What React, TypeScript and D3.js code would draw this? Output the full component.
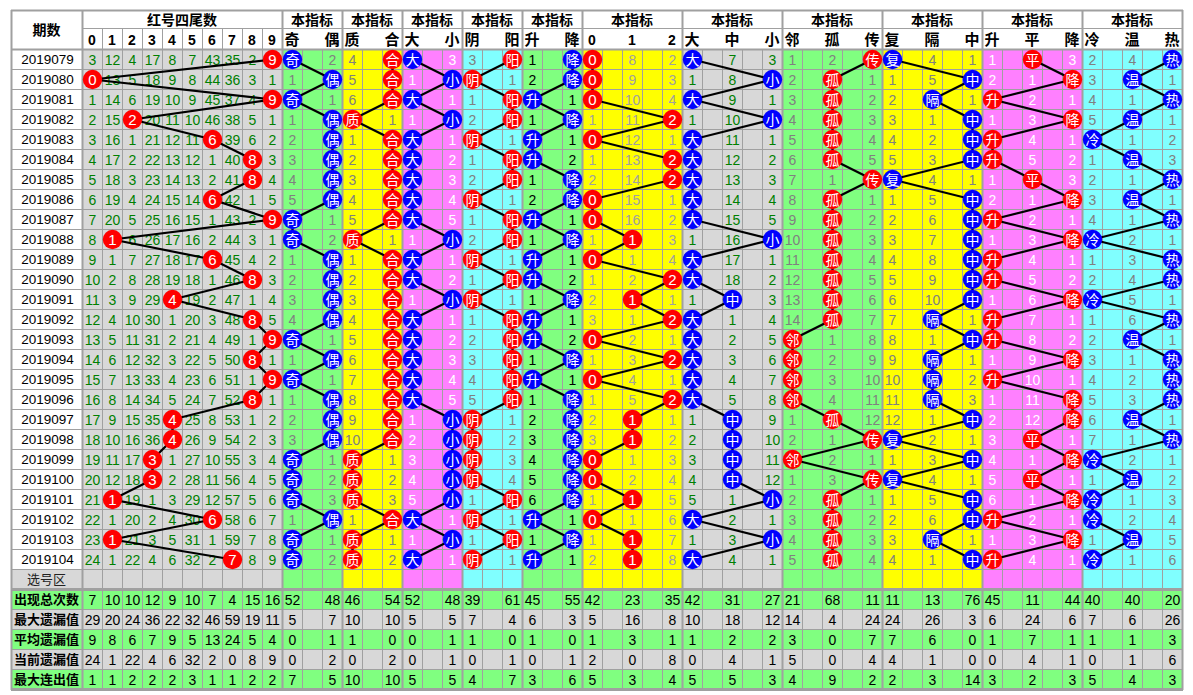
import React from "react";
import * as d3 from "d3";

// ---------- DATA ----------
const periods = [
  "2019079","2019080","2019081","2019082","2019083","2019084","2019085","2019086","2019087","2019088",
  "2019089","2019090","2019091","2019092","2019093","2019094","2019095","2019096","2019097","2019098",
  "2019099","2019100","2019101","2019102","2019103","2019104",
];
const digitLabels = ["0","1","2","3","4","5","6","7","8","9"];
// missing counts per row; 0 = drawn (hit)
const tailMiss = [
  [3,12,4,17,8,7,43,35,2,0],
  [0,13,5,18,9,8,44,36,3,1],
  [1,14,6,19,10,9,45,37,4,0],
  [2,15,0,20,11,10,46,38,5,1],
  [3,16,1,21,12,11,0,39,6,2],
  [4,17,2,22,13,12,1,40,0,3],
  [5,18,3,23,14,13,2,41,0,4],
  [6,19,4,24,15,14,0,42,1,5],
  [7,20,5,25,16,15,1,43,2,0],
  [8,0,6,26,17,16,2,44,3,1],
  [9,1,7,27,18,17,0,45,4,2],
  [10,2,8,28,19,18,1,46,0,3],
  [11,3,9,29,0,19,2,47,1,4],
  [12,4,10,30,1,20,3,48,0,5],
  [13,5,11,31,2,21,4,49,1,0],
  [14,6,12,32,3,22,5,50,0,1],
  [15,7,13,33,4,23,6,51,1,0],
  [16,8,14,34,5,24,7,52,0,1],
  [17,9,15,35,0,25,8,53,1,2],
  [18,10,16,36,0,26,9,54,2,3],
  [19,11,17,0,1,27,10,55,3,4],
  [20,12,18,0,2,28,11,56,4,5],
  [21,0,19,1,3,29,12,57,5,6],
  [22,1,20,2,4,30,0,58,6,7],
  [23,0,21,3,5,31,1,59,7,8],
  [24,1,22,4,6,32,2,0,8,9],
];
const tailStats = [
  [7,10,10,12,9,10,7,4,15,16],
  [29,20,24,36,22,32,46,59,19,11],
  [9,8,6,7,9,5,13,24,5,4],
  [24,1,22,4,6,32,2,0,8,9],
  [1,1,2,2,2,3,1,1,2,2],
];
const statLabels = ["出现总次数","最大遗漏值","平均遗漏值","当前遗漏值","最大连出值"];

const oddEvenLabels = ["奇","偶"];
const oddEven = [[0,2],[1,0],[0,1],[1,0],[2,0],[3,0],[4,0],[5,0],[0,1],[0,2],[1,0],[2,0],[3,0],[4,0],[0,1],[1,0],[0,1],[1,0],[2,0],[3,0],[0,1],[0,2],[0,3],[1,0],[0,1],[0,2]];
const oddEvenStats = [[52,48],[5,7],[0,1],[0,2],[7,5]];

const primeLabels = ["质","合"];
const primeComp = [[4,0],[5,0],[6,0],[0,1],[1,0],[2,0],[3,0],[4,0],[5,0],[0,1],[1,0],[2,0],[3,0],[4,0],[5,0],[6,0],[7,0],[8,0],[9,0],[10,0],[0,1],[0,2],[0,3],[1,0],[0,1],[0,2]];
const primeStats = [[46,54],[10,10],[1,0],[0,2],[10,10]];

const bigSmallLabels = ["大","小"];
const bigSmall = [[0,3],[1,0],[0,1],[1,0],[0,1],[0,2],[0,3],[0,4],[0,5],[1,0],[0,1],[0,2],[1,0],[0,1],[0,2],[0,3],[0,4],[0,5],[1,0],[2,0],[3,0],[4,0],[5,0],[0,1],[1,0],[0,1]];
const bigSmallStats = [[52,48],[5,5],[0,1],[0,1],[5,5]];

const yinYangLabels = ["阴","阳"];
const yinYang = [[3,0],[0,1],[1,0],[2,0],[0,1],[1,0],[2,0],[0,1],[1,0],[2,0],[0,1],[1,0],[0,1],[1,0],[2,0],[3,0],[4,0],[5,0],[0,1],[0,2],[0,3],[0,4],[1,0],[0,1],[1,0],[0,1]];
const yinYangStats = [[39,61],[7,4],[1,0],[0,1],[4,7]];

const riseFallLabels = ["升","降"];
const riseFall = [[1,0],[2,0],[0,1],[1,0],[0,1],[0,2],[1,0],[2,0],[0,1],[1,0],[0,1],[0,2],[1,0],[0,1],[0,2],[1,0],[0,1],[1,0],[2,0],[3,0],[4,0],[5,0],[6,0],[0,1],[1,0],[0,1]];
const riseFallStats = [[45,55],[6,3],[1,0],[0,1],[3,6]];

const mod3Labels = ["0","1","2"];
const mod3 = [[0,8,2],[0,9,3],[0,10,4],[1,11,0],[0,12,1],[1,13,0],[2,14,0],[0,15,1],[0,16,2],[1,0,3],[0,1,4],[1,2,0],[2,0,1],[3,1,0],[0,2,1],[1,3,0],[0,4,1],[1,5,0],[2,0,1],[3,0,2],[0,1,3],[0,2,4],[1,0,5],[0,1,6],[1,0,7],[2,0,8]];
const mod3Stats = [[42,23,35],[5,16,8],[1,3,1],[2,0,8],[5,3,4]];

const bmsLabels = ["大","中","小"];
const bigMidSmall = [[0,7,3],[1,8,0],[0,9,1],[1,10,0],[0,11,1],[0,12,2],[0,13,3],[0,14,4],[0,15,5],[1,16,0],[0,17,1],[0,18,2],[1,0,3],[0,1,4],[0,2,5],[0,3,6],[0,4,7],[0,5,8],[1,0,9],[2,0,10],[3,0,11],[4,0,12],[5,1,0],[0,2,1],[1,3,0],[0,4,1]];
const bmsStats = [[42,31,27],[10,18,12],[1,2,2],[0,4,1],[5,5,3]];

const airLabels = ["邻","孤","传"];
const adjIsoRep = [[1,2,0],[2,0,1],[3,0,2],[4,0,3],[5,0,4],[6,0,5],[7,1,0],[8,0,1],[9,0,2],[10,0,3],[11,0,4],[12,0,5],[13,0,6],[14,0,7],[0,1,8],[0,2,9],[0,3,10],[0,4,11],[1,0,12],[2,1,0],[0,2,1],[1,3,0],[2,0,1],[3,0,2],[4,0,3],[5,0,4]];
const airStats = [[21,68,11],[14,4,24],[3,0,7],[5,0,4],[4,9,2]];

const rgmLabels = ["复","隔","中"];
const repGapMid = [[0,4,1],[1,5,0],[2,0,1],[3,1,0],[4,2,0],[5,3,0],[0,4,1],[1,5,0],[2,6,0],[3,7,0],[4,8,0],[5,9,0],[6,10,0],[7,0,1],[8,1,0],[9,0,1],[10,0,2],[11,0,3],[12,1,0],[0,2,1],[1,3,0],[0,4,1],[1,5,0],[2,6,0],[3,0,1],[4,1,0]];
const rgmStats = [[11,13,76],[24,26,3],[7,6,0],[4,1,0],[2,3,14]];

const rffLabels = ["升","平","降"];
const riseFlatFall = [[1,0,3],[2,1,0],[0,2,1],[1,3,0],[0,4,1],[0,5,2],[1,0,3],[2,1,0],[0,2,1],[1,3,0],[0,4,1],[0,5,2],[1,6,0],[0,7,1],[0,8,2],[1,9,0],[0,10,1],[1,11,0],[2,12,0],[3,0,1],[4,1,0],[5,0,1],[6,1,0],[0,2,1],[1,3,0],[0,4,1]];
const rffStats = [[45,11,44],[6,24,6],[1,7,1],[0,4,1],[3,2,3]];

const cwhLabels = ["冷","温","热"];
const coldWarmHot = [[2,4,0],[3,0,1],[4,1,0],[5,0,1],[0,1,2],[1,0,3],[2,1,0],[3,0,1],[4,1,0],[0,2,1],[1,3,0],[2,4,0],[0,5,1],[1,6,0],[2,0,1],[3,1,0],[4,2,0],[5,3,0],[6,0,1],[7,1,0],[0,2,1],[1,0,2],[0,1,3],[0,2,4],[1,0,5],[0,1,6]];
const cwhStats = [[40,40,20],[7,6,26],[1,1,3],[0,1,6],[5,4,3]];

// ---------- STYLE ----------
const GREEN = "#80ff80";
const YELLOW = "#ffff00";
const PINK = "#ff80ff";
const CYAN = "#80ffff";
const GRAY = "#d8d8d8";
const GRID = "#a0a0a0";
const RED = "#ff0000";
const BLUE = "#0000ff";
const NUMF = "'Liberation Sans', Arial, sans-serif";
const CJK = "'Noto Sans CJK SC', sans-serif";

type Group = {
  title: string;
  labels: string[];
  rows: number[][];
  stats: number[][];
  bg: string;
  text: string;
  ball: string;
  ncols: number;
  pos: number[];
};

const groups: Group[] = [
  { title: "红号四尾数", labels: digitLabels, rows: tailMiss, stats: tailStats, bg: GRAY, text: "#008000", ball: RED, ncols: 10, pos: [0,1,2,3,4,5,6,7,8,9] },
  { title: "本指标", labels: oddEvenLabels, rows: oddEven, stats: oddEvenStats, bg: GREEN, text: "#808080", ball: BLUE, ncols: 3, pos: [0,2] },
  { title: "本指标", labels: primeLabels, rows: primeComp, stats: primeStats, bg: YELLOW, text: "#808080", ball: RED, ncols: 3, pos: [0,2] },
  { title: "本指标", labels: bigSmallLabels, rows: bigSmall, stats: bigSmallStats, bg: PINK, text: "#ffffff", ball: BLUE, ncols: 3, pos: [0,2] },
  { title: "本指标", labels: yinYangLabels, rows: yinYang, stats: yinYangStats, bg: CYAN, text: "#808080", ball: RED, ncols: 3, pos: [0,2] },
  { title: "本指标", labels: riseFallLabels, rows: riseFall, stats: riseFallStats, bg: GREEN, text: "#000000", ball: BLUE, ncols: 3, pos: [0,2] },
  { title: "本指标", labels: mod3Labels, rows: mod3, stats: mod3Stats, bg: YELLOW, text: "#a0a0a0", ball: RED, ncols: 5, pos: [0,2,4] },
  { title: "本指标", labels: bmsLabels, rows: bigMidSmall, stats: bmsStats, bg: GRAY, text: "#008000", ball: BLUE, ncols: 5, pos: [0,2,4] },
  { title: "本指标", labels: airLabels, rows: adjIsoRep, stats: airStats, bg: GREEN, text: "#808080", ball: RED, ncols: 5, pos: [0,2,4] },
  { title: "本指标", labels: rgmLabels, rows: repGapMid, stats: rgmStats, bg: YELLOW, text: "#808080", ball: BLUE, ncols: 5, pos: [0,2,4] },
  { title: "本指标", labels: rffLabels, rows: riseFlatFall, stats: rffStats, bg: PINK, text: "#ffffff", ball: RED, ncols: 5, pos: [0,2,4] },
  { title: "本指标", labels: cwhLabels, rows: coldWarmHot, stats: cwhStats, bg: CYAN, text: "#808080", ball: BLUE, ncols: 5, pos: [0,2,4] },
];

const TOTAL_COLS = groups.reduce((s, g) => s + g.ncols, 0);
const LEFT = 11;
const TOP = 10;
const HDR1 = 28;
const X0 = 82;
const NROWS = periods.length;

const xCol = d3.scaleLinear().domain([0, TOTAL_COLS]).range([X0, X0 + TOTAL_COLS * 20]);
const yRow = d3.scaleLinear().domain([0, NROWS + 6]).range([49, 49 + (NROWS + 6) * 20]);

export default function App() {
  let start = 0;
  const placed = groups.map((g) => {
    const s = start;
    start += g.ncols;
    return { ...g, start: s };
  });
  const right = xCol(TOTAL_COLS);
  const bottom = yRow(NROWS + 6);
  const line = d3.line<[number, number]>().x((d) => d[0]).y((d) => d[1]);

  const els: React.ReactNode[] = [];
  // backgrounds
  els.push(<rect key="bg" x={0} y={0} width={1193} height={695} fill="#fff" />);
  els.push(<rect key="selLab" x={LEFT} y={yRow(NROWS)} width={X0 - LEFT} height={20} fill={GRAY} />);
  placed.forEach((g, gi) => {
    els.push(
      <rect key={"gbg" + gi} x={xCol(g.start)} y={yRow(0)} width={xCol(g.start + g.ncols) - xCol(g.start)} height={yRow(NROWS + 1) - yRow(0)} fill={g.bg} />
    );
  });
  for (let r = 0; r < 5; r++) {
    els.push(<rect key={"sbg" + r} x={LEFT} y={yRow(NROWS + 1 + r)} width={right - LEFT} height={20} fill={r % 2 === 0 ? GREEN : GRAY} />);
  }
  // grid lines
  for (let k = 0; k <= NROWS + 6; k++) {
    els.push(<line key={"h" + k} x1={LEFT} x2={right} y1={yRow(k) + 0.5} y2={yRow(k) + 0.5} stroke={GRID} strokeWidth={1} />);
  }
  els.push(<line key="hh" x1={X0} x2={right} y1={HDR1 + 0.5} y2={HDR1 + 0.5} stroke={GRID} strokeWidth={1} />);
  for (let c = 0; c <= TOTAL_COLS; c++) {
    const y1 = c <= 10 ? HDR1 : yRow(0);
    els.push(<line key={"v" + c} x1={xCol(c) + 0.5} x2={xCol(c) + 0.5} y1={y1} y2={bottom} stroke={GRID} strokeWidth={1} />);
  }
  // thick separators
  const thickX = [LEFT, X0, ...placed.map((g) => xCol(g.start + g.ncols))];
  thickX.forEach((x, i) => {
    els.push(<line key={"tx" + i} x1={x + 0.5} x2={x + 0.5} y1={TOP} y2={bottom + 1} stroke={GRID} strokeWidth={2} />);
  });
  [TOP, yRow(0), yRow(NROWS + 1), bottom].forEach((y, i) => {
    els.push(<line key={"ty" + i} x1={LEFT} x2={right + 1} y1={y + 0.5} y2={y + 0.5} stroke={GRID} strokeWidth={i === 2 || i === 3 ? 3 : 2} />);
  });

  // headers
  els.push(<text key="qs" x={(LEFT + X0) / 2} y={(TOP + yRow(0)) / 2} dy="0.36em" textAnchor="middle" fontFamily={CJK} fontWeight="bold" fontSize={14}>期数</text>);
  placed.forEach((g, gi) => {
    els.push(
      <text key={"gt" + gi} x={(xCol(g.start) + xCol(g.start + g.ncols)) / 2} y={(TOP + HDR1) / 2 + 1} dy="0.36em" textAnchor="middle" fontFamily={CJK} fontWeight="bold" fontSize={14}>{g.title}</text>
    );
    g.labels.forEach((lab, j) => {
      els.push(
        <text key={"gl" + gi + "-" + j} x={xCol(g.start + g.pos[j]) + 10} y={(HDR1 + yRow(0)) / 2 + 1} dy="0.36em" textAnchor="middle" fontFamily={/^[0-9]$/.test(lab) ? NUMF : CJK} fontWeight="bold" fontSize={/^[0-9]$/.test(lab) ? 14 : 15}>{lab}</text>
      );
    });
  });

  // period labels
  periods.forEach((p, i) => {
    els.push(<text key={"p" + i} x={(LEFT + X0) / 2 + 1} y={yRow(i) + 10.5} dy="0.36em" textAnchor="middle" fontFamily={NUMF} fontSize={13.5}>{p}</text>);
  });
  els.push(<text key="sel" x={(LEFT + X0) / 2} y={yRow(NROWS) + 10.5} dy="0.36em" textAnchor="middle" fontFamily={CJK} fontSize={13} fill="#222">选号区</text>);
  statLabels.forEach((s, r) => {
    els.push(<text key={"sl" + r} x={(LEFT + X0) / 2} y={yRow(NROWS + 1 + r) + 10.5} dy="0.36em" textAnchor="middle" fontFamily={CJK} fontWeight="bold" fontSize={13}>{s}</text>);
  });

  // cell values & stats
  placed.forEach((g, gi) => {
    g.rows.forEach((row, i) => {
      row.forEach((v, j) => {
        if (v === 0) return;
        els.push(
          <text key={"c" + gi + "-" + i + "-" + j} x={xCol(g.start + g.pos[j]) + 10.5} y={yRow(i) + 10.5} dy="0.36em" textAnchor="middle" fontFamily={NUMF} fontSize={14} fill={g.text}>{v}</text>
        );
      });
    });
    g.stats.forEach((row, r) => {
      row.forEach((v, j) => {
        els.push(
          <text key={"s" + gi + "-" + r + "-" + j} x={xCol(g.start + g.pos[j]) + 10.5} y={yRow(NROWS + 1 + r) + 10.5} dy="0.36em" textAnchor="middle" fontFamily={NUMF} fontSize={14} fill="#000">{v}</text>
        );
      });
    });
  });

  // trend lines and balls
  placed.forEach((g, gi) => {
    const pts: [number, number][] = g.rows.map((row, i) => {
      const j = row.indexOf(0);
      return [xCol(g.start + g.pos[j]) + 10.5, yRow(i) + 10.5];
    });
    els.push(<path key={"ln" + gi} d={line(pts) || ""} fill="none" stroke="#000" strokeWidth={2.2} />);
  });
  placed.forEach((g, gi) => {
    g.rows.forEach((row, i) => {
      const j = row.indexOf(0);
      const cx = xCol(g.start + g.pos[j]) + 10.5;
      const cy = yRow(i) + 10.5;
      const lab = g.labels[j];
      const isNum = /^[0-9]$/.test(lab);
      els.push(
        <g key={"b" + gi + "-" + i}>
          <circle cx={cx} cy={cy} r={9.7} fill={g.ball} />
          <text x={cx} y={cy} dy="0.36em" textAnchor="middle" fontFamily={isNum ? NUMF : CJK} fontSize={isNum ? 15 : 14} fill="#fff">{lab}</text>
        </g>
      );
    });
  });

  return (
    <div style={{ position: "absolute", left: 0, top: 0 }}>
      <svg width={1193} height={695} style={{ display: "block" }}>
        {els}
      </svg>
    </div>
  );
}
